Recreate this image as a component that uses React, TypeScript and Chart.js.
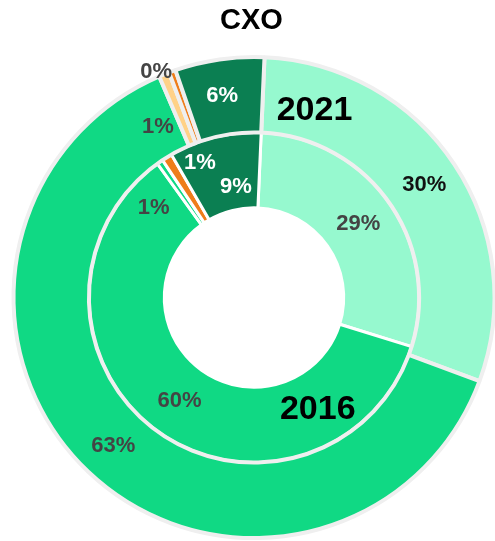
import React, { useEffect, useRef } from "react";
import { Chart, registerables } from "chart.js";

Chart.register(...registerables);

// ---- data ----
const title = "CXO";
const categories = ["Segment A", "Segment B", "Segment C", "Segment D", "Segment E"];
const ringYears = ["2021", "2016"];
const values2021 = [30, 63, 0.7, 0.45, 6];
const values2016 = [29, 60, 0.6, 1, 9];

// ---- styles ----
const MINT = "#96f9cf";
const GREEN = "#10d984";
const DARK_GREEN = "#0b7f52";
const PALE_ORANGE = "#ffd187";
const ORANGE = "#ef7d1a";

const colors2021 = [MINT, GREEN, PALE_ORANGE, ORANGE, DARK_GREEN];
const colors2016 = [MINT, GREEN, GREEN, ORANGE, DARK_GREEN];

const labelColors = [
  ["#111111", "#444444", "#444444", "#444444", "#ffffff"],
  ["#444444", "#444444", "#444444", "#ffffff", "#ffffff"],
];

// label nudges: angle (deg) and radial (px) shifts from the slice centre
const labelNudges = [
  [
    { da: 0, dr: 1.5 },
    { da: 0, dr: 1.5 },
    { da: -7.5, dr: -7.4 },
    { da: -3.6, dr: 42.6 },
    { da: -0.7, dr: 1.5 },
  ],
  [
    { da: 0, dr: 0 },
    { da: 0, dr: 0 },
    { da: -13.6, dr: 6.9 },
    { da: 10, dr: 17.9 },
    { da: 4.4, dr: -15.6 },
  ],
];

const ringLabelPlacement = [
  { angle: 17.9, dr: -6 },
  { angle: 150.4, dr: 1.6 },
];

const FONT = "'Liberation Sans', Arial, Helvetica, sans-serif";

const labelPlugin = {
  id: "sliceLabels",
  afterDatasetsDraw(chart: any) {
    const ctx = chart.ctx as CanvasRenderingContext2D;
    ctx.save();
    ctx.textAlign = "center";
    ctx.textBaseline = "middle";
    chart.data.datasets.forEach((ds: any, di: number) => {
      const meta = chart.getDatasetMeta(di);
      meta.data.forEach((arc: any, i: number) => {
        const p = arc.getProps(["x", "y", "startAngle", "endAngle", "innerRadius", "outerRadius"], true);
        const n = labelNudges[di][i];
        const mid = (p.startAngle + p.endAngle) / 2 + (n.da * Math.PI) / 180;
        const r = (p.innerRadius + p.outerRadius) / 2 + n.dr;
        const x = p.x + r * Math.cos(mid);
        const y = p.y + r * Math.sin(mid);
        ctx.font = `bold 22px ${FONT}`;
        ctx.fillStyle = labelColors[di][i];
        ctx.fillText(`${Math.round(ds.data[i])}%`, x, y);
      });
      // ring (year) label
      const a0: any = meta.data[0];
      if (a0) {
        const p = a0.getProps(["x", "y", "innerRadius", "outerRadius"], true);
        const pl = ringLabelPlacement[di];
        const ang = ((pl.angle - 90) * Math.PI) / 180;
        const r = (p.innerRadius + p.outerRadius) / 2 + pl.dr;
        ctx.font = `bold 34px ${FONT}`;
        ctx.fillStyle = "#000000";
        ctx.fillText(ringYears[di], p.x + r * Math.cos(ang), p.y + r * Math.sin(ang));
      }
    });
    // title
    ctx.font = `bold 29px ${FONT}`;
    ctx.fillStyle = "#000000";
    ctx.fillText(title, chart.chartArea.left + chart.chartArea.width / 2 - 2.5, 21);
    ctx.restore();
  },
};

export default function App() {
  const ref = useRef<HTMLCanvasElement | null>(null);

  useEffect(() => {
    if (!ref.current) return;
    const chart = new Chart(ref.current, {
      type: "doughnut",
      data: {
        labels: categories,
        datasets: [
          {
            label: ringYears[0],
            data: values2021,
            backgroundColor: colors2021,
            borderColor: "#efefef",
            borderWidth: 4,
          },
          {
            label: ringYears[1],
            data: values2016,
            backgroundColor: colors2016,
            borderColor: "#ffffff",
            borderWidth: 3,
          },
        ],
      },
      options: {
        animation: false,
        responsive: false,
        devicePixelRatio: 1,
        cutout: "37.3%",
        rotation: 2.5,
        layout: { padding: { top: 55, bottom: 1, left: 0, right: 0 } },
        plugins: {
          legend: { display: false },
          tooltip: { enabled: false },
          title: { display: false },
        },
        events: [],
      },
      plugins: [labelPlugin],
    });
    return () => chart.destroy();
  }, []);

  return (
    <div
      style={{
        position: "fixed",
        left: 0,
        top: 0,
        width: 495,
        height: 541,
        overflow: "hidden",
        background: "#ffffff",
      }}
    >
      <canvas ref={ref} width={508} height={541} style={{ display: "block", width: 508, height: 541 }} />
    </div>
  );
}
